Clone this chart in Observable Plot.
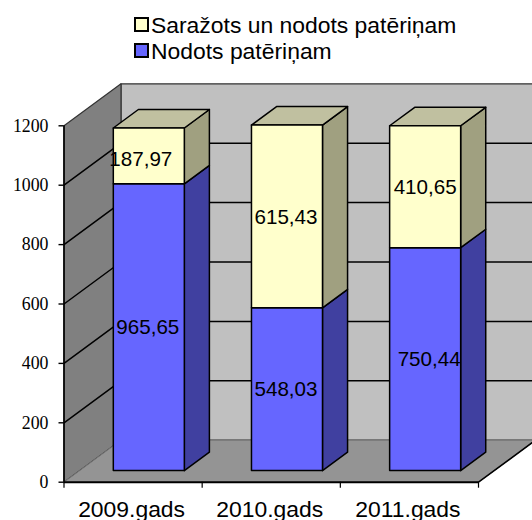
<!DOCTYPE html>
<html><head><meta charset="utf-8">
<script src="https://cdn.jsdelivr.net/npm/d3@7"></script>
<script src="https://cdn.jsdelivr.net/npm/@observablehq/plot@0.6"></script>
<style>
html,body{margin:0;padding:0;background:#fff;overflow:hidden;width:532px;height:520px}
#legend{position:relative;height:70px;width:532px;font-family:"Liberation Sans",Arial,sans-serif;font-size:22.9px;color:#000}
#legend .row{position:absolute;left:133px;height:26px;line-height:26px;white-space:nowrap}
#legend .sw{position:absolute;left:1px;top:5px;width:11px;height:11px;border:2px solid #000}
#legend .tx{position:absolute;left:18px;top:0}
svg{display:block}
</style></head><body>
<div id="legend"></div>
<div id="chart"></div>
<script>
const categories = ["2009.gads", "2010.gads", "2011.gads"];
const delivered = [965.65, 548.03, 750.44];
const stocked = [187.97, 615.43, 410.65];
const yTicks = [0, 200, 400, 600, 800, 1000, 1200];
const legendNames = ["Saražots un nodots patēriņam", "Nodots patēriņam"];

// 3D look: depth 0..1 shifts a point up and to the right, in scale units
const depthX = 0.4125, depthY = 141.4;
const barFront = 0.276, barBack = 0.716, barHalf = 0.257;
const P = (c, v, d) => ({x: c + d * depthX, y: v + d * depthY});
const face = (pts, fill, stroke = "#000", strokeWidth = 1.5) =>
  Plot.line([...pts, pts[0]], {x: "x", y: "y", fill, stroke, strokeWidth});

const colors = {
  wall: "#c0c0c0", side: "#808080", floor: "#949494",
  yF: "#ffffcc", yS: "#a0a080", yT: "#c0c0a0",
  bF: "#6666ff", bS: "#4040a0"
};

const marks = [];
// walls
marks.push(face([P(0,0,1), P(3,0,1), P(3,1200,1), P(0,1200,1)], colors.wall, "#333", 1.2));
marks.push(face([P(0,0,0), P(0,0,1), P(0,1200,1), P(0,1200,0)], colors.side, "#333", 1.2));
// gridlines
for (const t of yTicks.filter(t => t > 0 && t < 1200)) {
  marks.push(Plot.line([P(0,t,0), P(0,t,1), P(3,t,1)], {x:"x", y:"y", stroke:"#000", strokeWidth:1.5}));
}
// floor
marks.push(face([P(0,0,0), P(3,0,0), P(3,0,1), P(0,0,1)], colors.floor, "#777", 1));
marks.push(Plot.line([P(3,0,0), P(3,0,1)], {x:"x", y:"y", stroke:"#000", strokeWidth:1.5}));

// bars
categories.forEach((c, i) => {
  const l = i + 0.5 - barHalf, r = i + 0.5 + barHalf;
  const v0 = delivered[i], v1 = v0 + stocked[i];
  marks.push(face([P(r,0,barFront), P(r,0,barBack), P(r,v0,barBack), P(r,v0,barFront)], colors.bS));
  marks.push(face([P(l,0,barFront), P(r,0,barFront), P(r,v0,barFront), P(l,v0,barFront)], colors.bF));
  marks.push(face([P(r,v0,barFront), P(r,v0,barBack), P(r,v1,barBack), P(r,v1,barFront)], colors.yS));
  marks.push(face([P(l,v1,barFront), P(r,v1,barFront), P(r,v1,barBack), P(l,v1,barBack)], colors.yT));
  marks.push(face([P(l,v0,barFront), P(r,v0,barFront), P(r,v1,barFront), P(l,v1,barFront)], colors.yF));
});

// data labels
const fmt = v => v.toFixed(2).replace(".", ",");
const labelFont = {fontFamily:"Liberation Sans, Arial, sans-serif", fontSize:20.6, fill:"#000", textAnchor:"middle", lineAnchor:"middle"};
const nudges = {
  low: [[-1,0],[-1,0],[4,0]],
  high: [[-8,4],[-1,1],[0,1]]
};
categories.forEach((c, i) => {
  const v0 = delivered[i], v1 = v0 + stocked[i];
  const a = P(i + 0.5, v0 / 2, barFront), b = P(i + 0.5, (v0 + v1) / 2, barFront);
  marks.push(Plot.text([fmt(v0)], {x:[a.x], y:[a.y], text:d=>d, dx:nudges.low[i][0], dy:nudges.low[i][1], ...labelFont}));
  marks.push(Plot.text([fmt(stocked[i])], {x:[b.x], y:[b.y], text:d=>d, dx:nudges.high[i][0], dy:nudges.high[i][1], ...labelFont}));
});

// axes
marks.push(Plot.ruleX([0], {y1:0, y2:1200, stroke:"#000", strokeWidth:1.6}));
marks.push(Plot.ruleY([0], {x1:0, x2:3, stroke:"#000", strokeWidth:2}));
marks.push(Plot.axisY({ticks:yTicks, tickSize:5, tickPadding:10, tickFormat:()=>"", label:null, stroke:"#000", strokeWidth:1.4}));
marks.push(Plot.text(yTicks, {x:0, y:d=>d, text:d=>String(d), dx:-15.5, textAnchor:"end", lineAnchor:"middle",
  fontFamily:"Liberation Serif", fontSize:17.8, fill:"#000"}));
marks.push(Plot.axisX({ticks:[0,1,2,3], tickSize:6, tickFormat:()=>"" , label:null, stroke:"#000", strokeWidth:1.2}));
marks.push(Plot.axisX({ticks:[0.5,1.5,2.5], tickSize:0, tickPadding:19, dx:-1.5, tickFormat:d=>categories[Math.floor(d)], label:null,
  fontFamily:"Liberation Sans, Arial, sans-serif", fontSize:22.9, fill:"#000"}));

const chart = Plot.plot({
  width: 532, height: 450,
  marginTop: 55.3, marginBottom: 38.3, marginLeft: 63.5, marginRight: 54,
  x: {type:"linear", domain:[0,3], axis:null},
  y: {type:"linear", domain:[0,1200], axis:null},
  style: {background:"transparent", overflow:"visible"},
  marks
});
document.getElementById("chart").appendChild(chart);

// legend
const legendColors = [colors.yF, colors.bF];
const lg = document.getElementById("legend");
legendNames.forEach((n, i) => {
  const row = document.createElement("div");
  row.className = "row";
  row.style.top = (12 + i * 26) + "px";
  row.innerHTML = `<span class="sw" style="background:${legendColors[i]}"></span><span class="tx">${n}</span>`;
  lg.appendChild(row);
});
</script>
</body></html>
